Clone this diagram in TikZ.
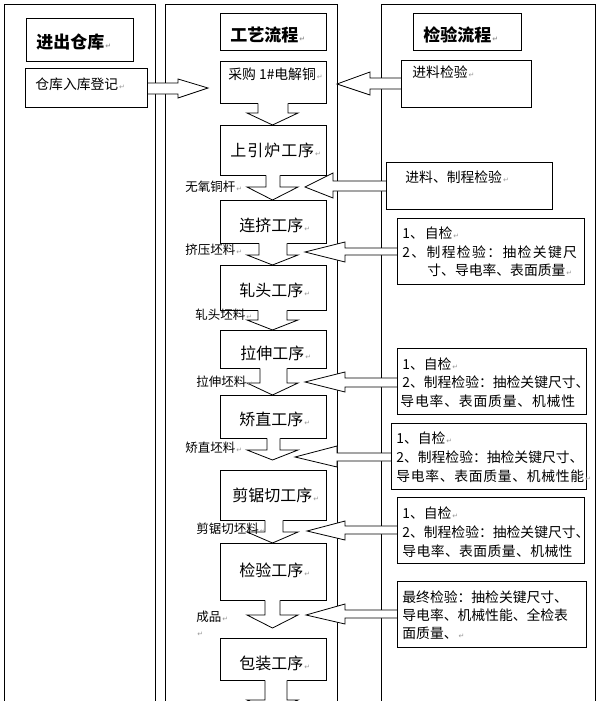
\documentclass[tikz,border=0pt]{standalone}
\usepackage{fontspec}
\setmainfont{Noto Sans CJK SC}
\newfontfamily\djv{DejaVu Sans}
\usetikzlibrary{calc,fit}
\newcommand\pmark{\hspace{1pt}{\djv\fontsize{7}{7}\selectfont\textcolor{gray!80}{↵}}}
% down block arrow: #1 upper node, #2 shaft left x, #3 shaft right x, #4 head y, #5 tip y
\newcommand\darr[5]{%
  \fill[white] ($(#2,0 |- #1.south)+(0,-1.2)$) -- (#2,#4) -- (247,#4) -- (272.5,#5) -- (298,#4) -- (#3,#4) -- ($(#3,0 |- #1.south)+(0,-1.2)$) -- cycle;
  \draw (#2,0 |- #1.south) -- (#2,#4) -- (247,#4) -- (272.5,#5) -- (298,#4) -- (#3,#4) -- (#3,0 |- #1.south);}
% left block arrow: #1 right node, #2/#3 shaft top/bottom y, #4 head base x, #5/#6 head top/bottom y, #7 tip x, #8 tip y
\newcommand\larr[8]{%
  \fill[white] (#1.west |- 0,#2) -- (#4,#2) -- (#4,#5) -- (#7,#8) -- (#4,#6) -- (#4,#3) -- (#1.west |- 0,#3) -- cycle;
  \draw (#1.west |- 0,#2) -- (#4,#2) -- (#4,#5) -- (#7,#8) -- (#4,#6) -- (#4,#3) -- (#1.west |- 0,#3);}
\begin{document}
\begin{tikzpicture}[x=1pt,y=-1pt,line width=0.8pt,
  box/.style={draw, inner sep=0pt, fill=white},
  t/.style={anchor=west, inner sep=0pt, font=\fontsize{13.8}{16}\selectfont},
  lab/.style={anchor=west, inner sep=0pt, font=\fontsize{12.5}{14}\selectfont},
  hd/.style={anchor=west, inner sep=0pt, font=\fontsize{17}{20}\selectfont\bfseries},
  pr/.style={anchor=west, inner sep=0pt, font=\fontsize{16}{18}\selectfont}]
\useasboundingbox (0,0) rectangle (601,701);
\clip (0,0) rectangle (601,701);
\fill[white] (0,0) rectangle (601,701);
% columns
\draw (4,720) -- (4,4) -- (155,4) -- (155,720);
\draw (165,720) -- (165,4) -- (337,4) -- (337,720);
\draw (381,720) -- (381,4) -- (595,4) -- (595,720);
% boxes (positions)
\coordinate (w1a) at (26,69); \coordinate (w1b) at (147,107);
\coordinate (r1a) at (402,61); \coordinate (r1b) at (531,107);
\coordinate (r2a) at (387,163); \coordinate (r2b) at (552,209);
\coordinate (r3a) at (398,219); \coordinate (r3b) at (584,284);
\coordinate (r4a) at (398,349); \coordinate (r4b) at (586,414);
\coordinate (r5a) at (392,424); \coordinate (r5b) at (586,489);
\coordinate (r6a) at (398,498); \coordinate (r6b) at (584,563);
\coordinate (r7a) at (398,582); \coordinate (r7b) at (586,647);
\path node[fit=(w1a)(w1b), inner sep=0pt] (w1) {}
      node[fit=(r1a)(r1b), inner sep=0pt] (r1) {}
      node[fit=(r2a)(r2b), inner sep=0pt] (r2) {}
      node[fit=(r3a)(r3b), inner sep=0pt] (r3) {}
      node[fit=(r4a)(r4b), inner sep=0pt] (r4) {}
      node[fit=(r5a)(r5b), inner sep=0pt] (r5) {}
      node[fit=(r6a)(r6b), inner sep=0pt] (r6) {}
      node[fit=(r7a)(r7b), inner sep=0pt] (r7) {};
% side arrows (behind boxes)
\fill[white] (w1.east |- 0,83) -- (178,83) -- (178,79) -- (208,88) -- (178,98) -- (178,94) -- (w1.east |- 0,94) -- cycle;
\draw (w1.east |- 0,83) -- (178,83) -- (178,79) -- (208,88) -- (178,98) -- (178,94) -- (w1.east |- 0,94);
\larr{r1}{78}{89}{370}{72}{95}{337}{84}
\larr{r2}{181}{191}{333}{173}{198}{305}{187}
\larr{r3}{248}{255}{345}{242}{262}{305}{252}
\larr{r4}{378}{387}{345}{372}{392}{305}{382}
\larr{r5}{453}{461}{337}{446}{467}{295}{457}
\larr{r6}{526}{534}{345}{521}{540}{307}{531}
\larr{r7}{610}{618}{345}{604}{624}{306}{615}
% draw side boxes
\foreach \n in {w1,r1,r2,r3,r4,r5,r6,r7} {\draw[fill=white] (\n.north west) rectangle (\n.south east);}
% headers
\node[box, fit={(26,18) (133,61)}] (h1) {};
\node[box, fit={(220,13) (326,50)}] (h2) {};
\node[box, fit={(413,13) (521,50)}] (h3) {};
% process boxes
\node[box, fit={(220,61) (326,103)}] (b1) {};
\node[box, fit={(220,125) (326,175)}] (b2) {};
\node[box, fit={(220,200) (326,243)}] (b3) {};
\node[box, fit={(220,265) (326,310)}] (b4) {};
\node[box, fit={(220,330) (326,368)}] (b5) {};
\node[box, fit={(220,395) (326,438)}] (b6) {};
\node[box, fit={(220,470) (326,520)}] (b7) {};
\node[box, fit={(220,543) (326,600)}] (b8) {};
\node[box, fit={(220,638) (326,680)}] (b9) {};
% down arrows
\darr{b1}{258}{288}{113}{125}
\darr{b2}{266}{280}{187}{200}
\darr{b3}{259}{287}{255}{265}
\darr{b4}{258}{287}{320}{330}
\darr{b5}{260}{287}{383}{395}
\darr{b6}{267}{280}{450}{460}
\darr{b7}{265}{283}{532}{543}
\darr{b8}{265}{280}{615}{628}
\darr{b9}{265}{287}{700}{712}
% process texts
\node[pr] (tb2) at (230,150) {\addfontfeature{LetterSpace=6}上引炉工序\pmark};
\node[pr] (tb3) at (239,225) {连挤工序\pmark};
\node[pr] (tb4) at (239,290) {轧头工序\pmark};
\node[pr] (tb5) at (240,353) {拉伸工序\pmark};
\node[pr] (tb6) at (239,419) {矫直工序\pmark};
\node[pr] (tb7) at (232,495) {剪锯切工序\pmark};
\node[pr] (tb8) at (239,570) {检验工序\pmark};
\node[pr] (tb9) at (239,663) {包装工序\pmark};
% texts
\node[hd] (th1) at (36,42) {进出仓库\pmark};
\node[hd] (th2) at (230,35) {工艺流程\pmark};
\node[hd] (th3) at (423,35) {检验流程\pmark};
\node[t] (tw1) at (35,84) {仓库入库登记\pmark};
\node[t] (tb1) at (228,74) {采购 1\#电解铜\pmark};
\node[t] (tr1) at (412,72) {进料检验\pmark};
\node[t] (tr2) at (405,177) {进料、制程检验\pmark};
\node[t] (tr3a) at (402,233) {1、\hspace{1pt}自检\pmark};
\node[t] (tr3b) at (402,252) {\addfontfeature{LetterSpace=10}2、制程检验：抽检关键尺};
\node[t] (tr3c) at (427,270) {寸、导电率、表面质量\pmark};
\node[t] (tr4a) at (402,364) {1、自检\pmark};
\node[t] (tr4b) at (402,382) {2、制程检验：抽检关键尺寸、};
\node[t] (tr4c) at (400,401) {\addfontfeature{LetterSpace=6}导电率、表面质量、机械性};
\node[t] (tr5a) at (396,438) {1、自检\pmark};
\node[t] (tr5b) at (396,457) {2、制程检验：抽检关键尺寸、};
\node[t] (tr5c) at (396,476) {\addfontfeature{LetterSpace=5}导电率、表面质量、机械性能\pmark};
\node[t] (tr6a) at (402,513) {1、自检\pmark};
\node[t] (tr6b) at (402,532) {2、制程检验：抽检关键尺寸、};
\node[t] (tr6c) at (402,551) {\addfontfeature{LetterSpace=3}导电率、表面质量、机械性};
\node[t] (tr7a) at (402,597) {最终检验：抽检关键尺寸、};
\node[t] (tr7b) at (402,615) {导电率、机械性能、全检表};
\node[t] (tr7c) at (402,633) {面质量、\pmark};
% left labels
\node[lab] (l1) at (185,187) {无氧铜杆\pmark};
\node[lab] (l2) at (185,250) {挤压坯料\pmark};
\node[lab] (l3) at (195,315) {轧头坯料\pmark};
\node[lab] (l4) at (196,382) {拉伸坯料\pmark};
\node[lab] (l5) at (185,448) {矫直坯料\pmark};
\node[lab] (l6) at (196,529) {剪锯切坯料\pmark};
\node[lab] (l7) at (196,617) {成品\pmark};
\node[lab] (l8) at (196,634) {\pmark};
\end{tikzpicture}
\end{document}
